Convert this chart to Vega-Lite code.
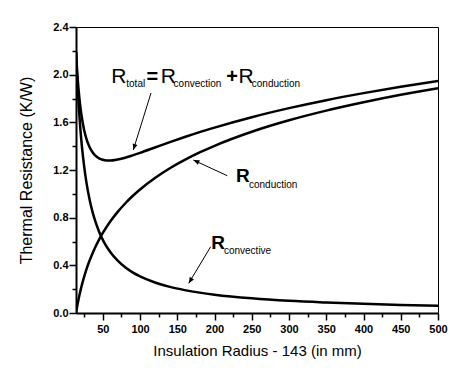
{
  "$schema": "https://vega.github.io/schema/vega-lite/v6.json",
  "width": 362,
  "height": 286,
  "autosize": {"type": "none"},
  "padding": {"left": 76, "top": 27, "right": 24, "bottom": 58},
  "background": "white",
  "config": {
    "view": {"stroke": "black", "strokeWidth": 1},
    "font": "Liberation Sans",
    "axis": {"grid": false, "domainColor": "black", "tickColor": "black", "labelColor": "black", "titleColor": "black"}
  },
  "resolve": {"axis": {"x": "independent", "y": "independent"}},
  "datasets": {
    "curves": [
      {"r": 14, "conv": 2.193, "cond": 0.0, "total": 2.193},
      {"r": 15, "conv": 2.047, "cond": 0.036, "total": 2.083},
      {"r": 16, "conv": 1.919, "cond": 0.07, "total": 1.989},
      {"r": 18, "conv": 1.706, "cond": 0.133, "total": 1.838},
      {"r": 20, "conv": 1.535, "cond": 0.188, "total": 1.723},
      {"r": 22, "conv": 1.395, "cond": 0.238, "total": 1.634},
      {"r": 25, "conv": 1.228, "cond": 0.306, "total": 1.534},
      {"r": 28, "conv": 1.096, "cond": 0.366, "total": 1.462},
      {"r": 32, "conv": 0.959, "cond": 0.436, "total": 1.395},
      {"r": 36, "conv": 0.853, "cond": 0.498, "total": 1.351},
      {"r": 40, "conv": 0.768, "cond": 0.554, "total": 1.321},
      {"r": 45, "conv": 0.682, "cond": 0.616, "total": 1.298},
      {"r": 50, "conv": 0.614, "cond": 0.672, "total": 1.286},
      {"r": 55, "conv": 0.558, "cond": 0.722, "total": 1.28},
      {"r": 60, "conv": 0.512, "cond": 0.768, "total": 1.279},
      {"r": 70, "conv": 0.439, "cond": 0.849, "total": 1.288},
      {"r": 80, "conv": 0.384, "cond": 0.919, "total": 1.303},
      {"r": 90, "conv": 0.341, "cond": 0.982, "total": 1.323},
      {"r": 100, "conv": 0.307, "cond": 1.037, "total": 1.344},
      {"r": 120, "conv": 0.256, "cond": 1.133, "total": 1.389},
      {"r": 140, "conv": 0.219, "cond": 1.215, "total": 1.434},
      {"r": 160, "conv": 0.192, "cond": 1.285, "total": 1.477},
      {"r": 180, "conv": 0.171, "cond": 1.347, "total": 1.518},
      {"r": 200, "conv": 0.154, "cond": 1.403, "total": 1.556},
      {"r": 250, "conv": 0.123, "cond": 1.521, "total": 1.643},
      {"r": 300, "conv": 0.102, "cond": 1.617, "total": 1.719},
      {"r": 350, "conv": 0.088, "cond": 1.698, "total": 1.786},
      {"r": 400, "conv": 0.077, "cond": 1.768, "total": 1.845},
      {"r": 450, "conv": 0.068, "cond": 1.831, "total": 1.899},
      {"r": 500, "conv": 0.061, "cond": 1.886, "total": 1.948}
    ],
    "arrows": [
      {"id": 1, "x1": 114.7, "y1": 1.846, "x2": 90.9, "y2": 1.368},
      {"id": 2, "x1": 217.1, "y1": 1.152, "x2": 171.5, "y2": 1.284},
      {"id": 3, "x1": 194.8, "y1": 0.556, "x2": 165.3, "y2": 0.249}
    ],
    "labels": [
      {"part": "R1", "text": "R", "x": 61.3, "y": 1.93},
      {"part": "sub", "text": "total", "x": 81.5, "y": 1.894},
      {"part": "op", "text": "=", "x": 108.6, "y": 1.93},
      {"part": "R1", "text": "R", "x": 127.8, "y": 1.93},
      {"part": "sub", "text": "convection", "x": 145.0, "y": 1.894},
      {"part": "op", "text": "+", "x": 215.8, "y": 1.93},
      {"part": "R1", "text": "R", "x": 232.2, "y": 1.93},
      {"part": "sub", "text": "conduction", "x": 250.0, "y": 1.894},
      {"part": "R2", "text": "R", "x": 228.9, "y": 1.097},
      {"part": "sub", "text": "conduction", "x": 246.2, "y": 1.0515},
      {"part": "R2", "text": "R", "x": 195.6, "y": 0.533},
      {"part": "sub", "text": "convective", "x": 212.6, "y": 0.4926}
    ]
  },
  "layer": [
    {
      "data": {"name": "curves"},
      "transform": [{"fold": ["total", "cond", "conv"], "as": ["series", "resistance"]}],
      "mark": {"type": "line", "color": "black", "strokeWidth": 2.5, "interpolate": "monotone", "clip": true},
      "encoding": {
        "x": {
          "field": "r", "type": "quantitative",
          "scale": {"domain": [14, 500], "nice": false, "zero": false},
          "axis": {
            "orient": "bottom",
            "values": [50, 100, 150, 200, 250, 300, 350, 400, 450, 500],
            "title": "Insulation Radius  - 143 (in mm)",
            "titleFont": "Liberation Sans", "titleFontSize": 15, "titleFontWeight": "normal", "titlePadding": 9,
            "labelFont": "Liberation Sans", "labelFontSize": 11, "labelFontWeight": "bold", "labelPadding": 3,
            "tickSize": 7, "tickWidth": 1.5, "domainWidth": 2, "labelFlush": false, "labelOverlap": false
          }
        },
        "y": {
          "field": "resistance", "type": "quantitative",
          "scale": {"domain": [0, 2.4], "nice": false, "zero": false},
          "axis": {
            "orient": "left",
            "values": [0, 0.4, 0.8, 1.2, 1.6, 2.0, 2.4],
            "format": ".1f",
            "title": "Thermal Resistance (K/W)",
            "titleFont": "Liberation Sans", "titleFontSize": 16, "titleFontWeight": "normal", "titlePadding": 18,
            "labelFont": "Liberation Sans", "labelFontSize": 11, "labelFontWeight": "bold", "labelPadding": 1,
            "tickSize": 7, "tickWidth": 1.5, "domainWidth": 2, "labelFlush": false, "labelOverlap": false
          }
        },
        "detail": {"field": "series"}
      }
    },
    {
      "data": {"name": "curves"},
      "mark": {"type": "line", "strokeOpacity": 0},
      "encoding": {
        "x": {
          "field": "r", "type": "quantitative",
          "axis": {"orient": "bottom", "values": [25, 75, 125, 175, 225, 275, 325, 375, 425, 475], "labels": false, "domain": false, "tickSize": 4, "tickWidth": 1.5, "title": null}
        },
        "y": {
          "field": "total", "type": "quantitative",
          "axis": {"orient": "left", "values": [0.2, 0.6, 1.0, 1.4, 1.8, 2.2], "labels": false, "domain": false, "tickSize": 4, "tickWidth": 1.5, "title": null}
        }
      }
    },
    {
      "data": {"name": "arrows"},
      "mark": {"type": "rule", "color": "black", "strokeWidth": 1},
      "encoding": {
        "x": {"field": "x1", "type": "quantitative", "axis": null},
        "y": {"field": "y1", "type": "quantitative", "axis": null},
        "x2": {"field": "x2"},
        "y2": {"field": "y2"}
      }
    },
    {
      "data": {"name": "arrows"},
      "transform": [{"filter": "datum.id == 1"}],
      "mark": {"type": "point", "shape": "M0,0L-0.4,1L0.4,1Z", "angle": 197.5, "size": 150, "filled": true, "color": "black", "opacity": 1},
      "encoding": {
        "x": {"field": "x2", "type": "quantitative", "axis": null},
        "y": {"field": "y2", "type": "quantitative", "axis": null}
      }
    },
    {
      "data": {"name": "arrows"},
      "transform": [{"filter": "datum.id == 2"}],
      "mark": {"type": "point", "shape": "M0,0L-0.4,1L0.4,1Z", "angle": 295, "size": 150, "filled": true, "color": "black", "opacity": 1},
      "encoding": {
        "x": {"field": "x2", "type": "quantitative", "axis": null},
        "y": {"field": "y2", "type": "quantitative", "axis": null}
      }
    },
    {
      "data": {"name": "arrows"},
      "transform": [{"filter": "datum.id == 3"}],
      "mark": {"type": "point", "shape": "M0,0L-0.4,1L0.4,1Z", "angle": 211.4, "size": 150, "filled": true, "color": "black", "opacity": 1},
      "encoding": {
        "x": {"field": "x2", "type": "quantitative", "axis": null},
        "y": {"field": "y2", "type": "quantitative", "axis": null}
      }
    },
    {
      "data": {"name": "labels"},
      "transform": [{"filter": "datum.part == 'R1'"}],
      "mark": {"type": "text", "font": "Liberation Sans", "fontSize": 21, "align": "left", "baseline": "alphabetic", "color": "black"},
      "encoding": {
        "x": {"field": "x", "type": "quantitative", "axis": null},
        "y": {"field": "y", "type": "quantitative", "axis": null},
        "text": {"field": "text"}
      }
    },
    {
      "data": {"name": "labels"},
      "transform": [{"filter": "datum.part == 'R2'"}],
      "mark": {"type": "text", "font": "Liberation Sans", "fontSize": 19, "fontWeight": "bold", "align": "left", "baseline": "alphabetic", "color": "black"},
      "encoding": {
        "x": {"field": "x", "type": "quantitative", "axis": null},
        "y": {"field": "y", "type": "quantitative", "axis": null},
        "text": {"field": "text"}
      }
    },
    {
      "data": {"name": "labels"},
      "transform": [{"filter": "datum.part == 'op'"}],
      "mark": {"type": "text", "font": "Liberation Sans", "fontSize": 20, "fontWeight": "bold", "align": "left", "baseline": "alphabetic", "color": "black"},
      "encoding": {
        "x": {"field": "x", "type": "quantitative", "axis": null},
        "y": {"field": "y", "type": "quantitative", "axis": null},
        "text": {"field": "text"}
      }
    },
    {
      "data": {"name": "labels"},
      "transform": [{"filter": "datum.part == 'sub'"}],
      "mark": {"type": "text", "font": "Liberation Sans", "fontSize": 10, "align": "left", "baseline": "alphabetic", "color": "black"},
      "encoding": {
        "x": {"field": "x", "type": "quantitative", "axis": null},
        "y": {"field": "y", "type": "quantitative", "axis": null},
        "text": {"field": "text"}
      }
    }
  ]
}
